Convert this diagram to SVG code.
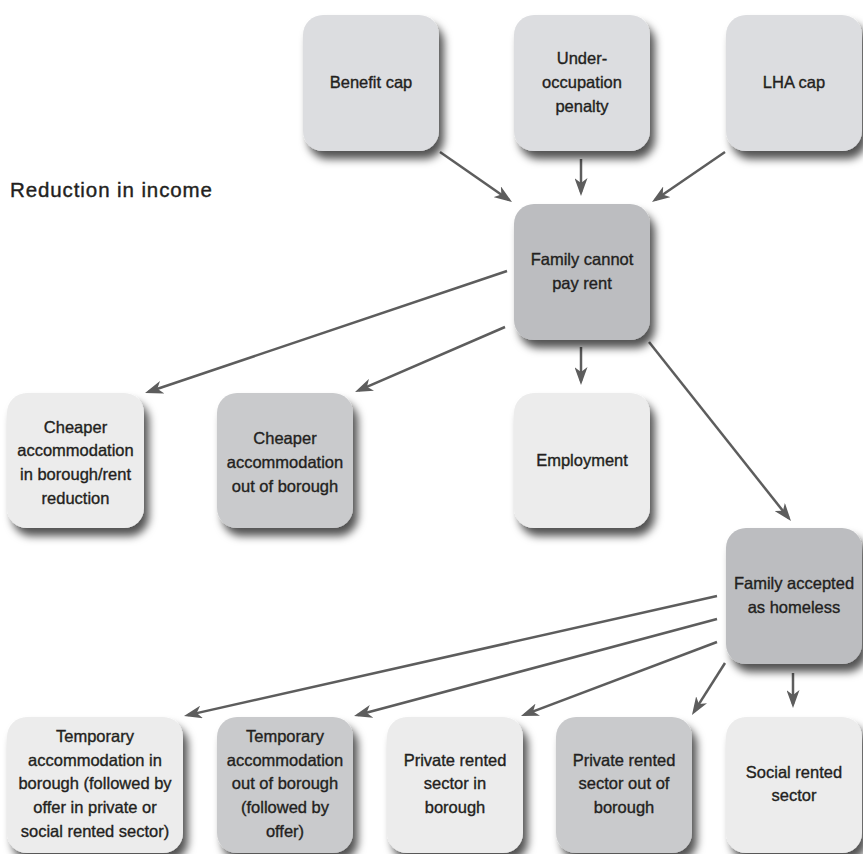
<svg xmlns="http://www.w3.org/2000/svg" width="863" height="854" viewBox="0 0 863 854">
<style>
  .box { filter: url(#shadow); }
  .t { font-family: "Liberation Sans", Arial, Helvetica, sans-serif; font-size: 16.5px; fill: #231f20; stroke: #231f20; stroke-width: 0.35; text-anchor: middle; }
  .title { font-family: "Liberation Sans", Arial, Helvetica, sans-serif; font-size: 20.5px; fill: #231f20; stroke: #231f20; stroke-width: 0.4; }
  .top { fill: #dcdde0; }
  .dark { fill: #bcbdc0; }
  .mid { fill: #c9cacc; }
  .light { fill: #ececec; }
  .conn line { stroke: #5d5d5d; stroke-width: 2.5; marker-end: url(#arrow); }
</style>
<defs>
  <filter id="shadow" x="-20%" y="-20%" width="150%" height="150%">
    <feDropShadow dx="5" dy="8" stdDeviation="4.5" flood-color="#000" flood-opacity="0.68"/>
  </filter>
  <marker id="arrow" markerUnits="userSpaceOnUse" markerWidth="18" markerHeight="13" refX="14" refY="6.5" orient="auto">
    <path d="M0,0 L18,6.5 L0,13 L5,6.5 Z" fill="#5d5d5d"/>
  </marker>
</defs>
<rect width="863" height="854" fill="#ffffff"/>

<text class="title" x="10" y="197" textLength="202" lengthAdjust="spacing">Reduction in income</text>

<g id="connectors" class="conn">
  <line x1="440" y1="152" x2="508.7" y2="199.7"/>
  <line x1="581" y1="159" x2="581" y2="192"/>
  <line x1="725" y1="152" x2="655.3" y2="199.7"/>
  <line x1="507" y1="271" x2="148.8" y2="391.7"/>
  <line x1="505" y1="327" x2="358.7" y2="390.4"/>
  <line x1="581" y1="347" x2="581" y2="381"/>
  <line x1="649" y1="342" x2="788.5" y2="517.9"/>
  <line x1="717" y1="596" x2="187.9" y2="715.1"/>
  <line x1="717" y1="619" x2="357.9" y2="715"/>
  <line x1="717" y1="642" x2="524.7" y2="714.6"/>
  <line x1="725" y1="663" x2="694.1" y2="711.6"/>
  <line x1="793" y1="673" x2="793" y2="704"/>
</g>

<g id="benefit-cap">
  <rect class="box top" x="303" y="15" width="136" height="136" rx="20"/>
  <text class="t" x="371" y="88">Benefit cap</text>
</g>
<g id="under-occupation">
  <rect class="box top" x="514" y="15" width="136" height="136" rx="20"/>
  <text class="t" x="582" y="64.3">Under-</text>
  <text class="t" x="582" y="88">occupation</text>
  <text class="t" x="582" y="111.7">penalty</text>
</g>
<g id="lha-cap">
  <rect class="box top" x="726" y="15" width="136" height="136" rx="20"/>
  <text class="t" x="794" y="88">LHA cap</text>
</g>
<g id="family-cannot-pay">
  <rect class="box dark" x="514" y="204" width="136" height="136" rx="20"/>
  <text class="t" x="582" y="265">Family cannot</text>
  <text class="t" x="582" y="288.7">pay rent</text>
</g>
<g id="cheaper-in-borough">
  <rect class="box light" x="7" y="393" width="137" height="135" rx="20"/>
  <text class="t" x="75.5" y="432.5">Cheaper</text>
  <text class="t" x="75.5" y="456.2">accommodation</text>
  <text class="t" x="75.5" y="479.9">in borough/rent</text>
  <text class="t" x="75.5" y="503.6">reduction</text>
</g>
<g id="cheaper-out-borough">
  <rect class="box mid" x="217" y="393" width="136" height="135" rx="20"/>
  <text class="t" x="285" y="444.3">Cheaper</text>
  <text class="t" x="285" y="468">accommodation</text>
  <text class="t" x="285" y="491.7">out of borough</text>
</g>
<g id="employment">
  <rect class="box light" x="514" y="393" width="136" height="135" rx="20"/>
  <text class="t" x="582" y="466">Employment</text>
</g>
<g id="family-accepted">
  <rect class="box dark" x="726" y="528" width="136" height="136" rx="20"/>
  <text class="t" x="794" y="589">Family accepted</text>
  <text class="t" x="794" y="612.7">as homeless</text>
</g>
<g id="temp-in-borough">
  <rect class="box light" x="7" y="717" width="176" height="136" rx="20"/>
  <text class="t" x="95" y="742">Temporary</text>
  <text class="t" x="95" y="765.7">accommodation in</text>
  <text class="t" x="95" y="789.4">borough (followed by</text>
  <text class="t" x="95" y="813.1">offer in private or</text>
  <text class="t" x="95" y="836.8">social rented sector)</text>
</g>
<g id="temp-out-borough">
  <rect class="box mid" x="217" y="717" width="136" height="136" rx="20"/>
  <text class="t" x="285" y="742">Temporary</text>
  <text class="t" x="285" y="765.7">accommodation</text>
  <text class="t" x="285" y="789.4">out of borough</text>
  <text class="t" x="285" y="813.1">(followed by</text>
  <text class="t" x="285" y="836.8">offer)</text>
</g>
<g id="private-in-borough">
  <rect class="box light" x="387" y="717" width="136" height="136" rx="20"/>
  <text class="t" x="455" y="765.7">Private rented</text>
  <text class="t" x="455" y="789.4">sector in</text>
  <text class="t" x="455" y="813.1">borough</text>
</g>
<g id="private-out-borough">
  <rect class="box mid" x="556" y="717" width="136" height="136" rx="20"/>
  <text class="t" x="624" y="765.7">Private rented</text>
  <text class="t" x="624" y="789.4">sector out of</text>
  <text class="t" x="624" y="813.1">borough</text>
</g>
<g id="social-rented">
  <rect class="box light" x="726" y="717" width="136" height="136" rx="20"/>
  <text class="t" x="794" y="777.5">Social rented</text>
  <text class="t" x="794" y="801.2">sector</text>
</g>
</svg>
